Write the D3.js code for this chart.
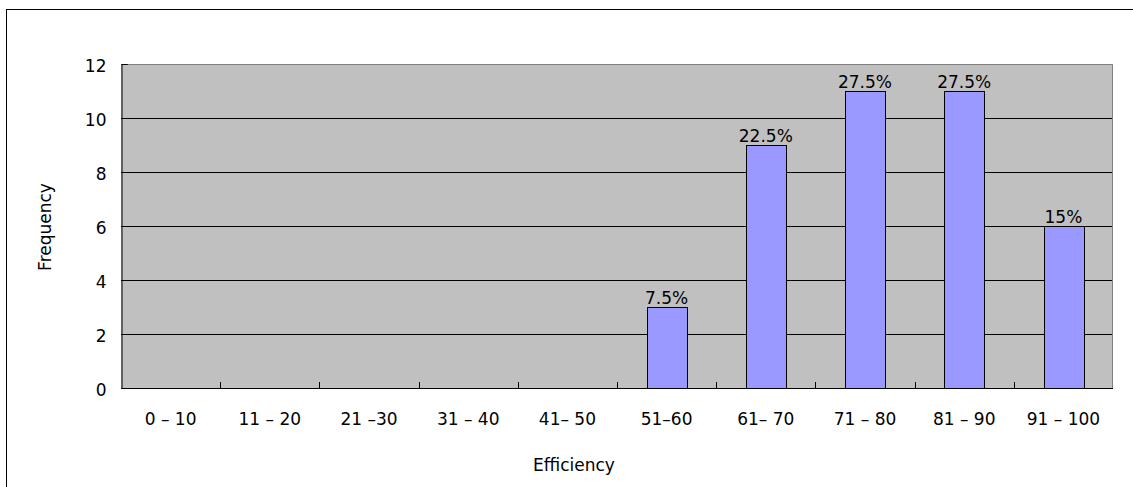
<!DOCTYPE html>
<html>
<head>
<meta charset="utf-8">
<script src="https://cdn.jsdelivr.net/npm/d3@7"></script>
<style>
  html, body { margin: 0; padding: 0; background: #fff; }
  svg { display: block; }
  text { font-family: "DejaVu Sans", "Liberation Sans", sans-serif; fill: #000; }
</style>
</head>
<body>
<svg id="chart" width="1133" height="487"></svg>
<script>
// Efficiency ranges and how many results fell into each one
const categories = ["0 – 10", "11 – 20", "21 –30", "31 – 40", "41– 50", "51–60", "61– 70", "71 – 80", "81 – 90", "91 – 100"];
const frequency = [0, 0, 0, 0, 0, 3, 9, 11, 11, 6];
const shareLabels = ["", "", "", "", "", "7.5%", "22.5%", "27.5%", "27.5%", "15%"];
const yTicks = [0, 2, 4, 6, 8, 10, 12];

const FONT_SIZE = 17;
const svg = d3.select("#chart");
const plot = { left: 121, top: 64, right: 1113, bottom: 388 };

// outer chart frame
svg.append("rect")
  .attr("x", 6.5).attr("y", 9.5)
  .attr("width", 1140).attr("height", 500)
  .attr("fill", "#fff").attr("stroke", "#000").attr("stroke-width", 1);

const x = d3.scaleBand()
  .domain(categories)
  .range([plot.left, plot.right])
  .paddingInner(0.6)
  .paddingOuter(0.3);

const y = d3.scaleLinear()
  .domain([0, 12])
  .range([plot.bottom, plot.top]);

// plot area background
svg.append("rect")
  .attr("x", plot.left).attr("y", plot.top)
  .attr("width", plot.right - plot.left).attr("height", plot.bottom - plot.top)
  .attr("fill", "#c0c0c0");

// horizontal gridlines
svg.append("g")
  .selectAll("line")
  .data(yTicks.filter(d => d > 0 && d < 12))
  .join("line")
  .attr("x1", plot.left).attr("x2", plot.right)
  .attr("y1", d => Math.round(y(d)) + 0.5).attr("y2", d => Math.round(y(d)) + 0.5)
  .attr("stroke", "#000").attr("stroke-width", 1);

// plot top and right edges
svg.append("path")
  .attr("d", `M${plot.left},${plot.top + 0.5}H${plot.right - 0.5}V${plot.bottom}`)
  .attr("fill", "none").attr("stroke", "#808080").attr("stroke-width", 1);

// bars
svg.append("g")
  .selectAll("rect")
  .data(categories.map((c, i) => ({ c, v: frequency[i] })).filter(d => d.v > 0))
  .join("rect")
  .attr("x", d => Math.round(x(d.c)) + 0.5)
  .attr("y", d => Math.round(y(d.v)) + 0.5)
  .attr("width", Math.round(x.bandwidth()))
  .attr("height", d => Math.round(y(0)) - Math.round(y(d.v)))
  .attr("fill", "#9999ff")
  .attr("stroke", "#000")
  .attr("stroke-width", 1);

// value labels above bars
svg.append("g")
  .selectAll("text")
  .data(categories.map((c, i) => ({ c, v: frequency[i], t: shareLabels[i] })).filter(d => d.t))
  .join("text")
  .attr("x", d => x(d.c) + x.bandwidth() / 2)
  .attr("y", d => y(d.v) - 3)
  .attr("text-anchor", "middle")
  .attr("font-size", FONT_SIZE)
  .text(d => d.t);

// y axis
const yAxis = d3.axisLeft(y).tickValues(yTicks).tickSize(-6).tickPadding(15);
const gy = svg.append("g")
  .attr("transform", `translate(${plot.left + 0.5},0)`)
  .call(yAxis);
gy.select(".domain").attr("stroke", "#000");
gy.selectAll(".tick line").attr("stroke", "#000");
gy.selectAll(".tick text")
  .attr("font-size", FONT_SIZE)
  .attr("font-family", "DejaVu Sans, Liberation Sans, sans-serif")
  .attr("dy", "0.42em");

// x axis: ticks at category boundaries, labels centred in each category
const xEdges = d3.range(categories.length + 1).map(i => plot.left + i * x.step());
const gx = svg.append("g");
gx.append("line")
  .attr("x1", plot.left).attr("x2", plot.right)
  .attr("y1", plot.bottom + 0.5).attr("y2", plot.bottom + 0.5)
  .attr("stroke", "#000");
gx.selectAll("line.tk")
  .data(xEdges.slice(1, -1))
  .join("line")
  .attr("class", "tk")
  .attr("x1", d => Math.round(d) + 0.5).attr("x2", d => Math.round(d) + 0.5)
  .attr("y1", plot.bottom - 6).attr("y2", plot.bottom)
  .attr("stroke", "#000");
gx.selectAll("text")
  .data(categories)
  .join("text")
  .attr("x", d => x(d) + x.bandwidth() / 2)
  .attr("y", 425)
  .attr("text-anchor", "middle")
  .attr("font-size", FONT_SIZE)
  .text(d => d);

// axis titles
svg.append("text")
  .attr("x", 574).attr("y", 471)
  .attr("text-anchor", "middle")
  .attr("font-size", FONT_SIZE)
  .text("Efficiency");

svg.append("text")
  .attr("transform", "translate(51,227) rotate(-90)")
  .attr("text-anchor", "middle")
  .attr("font-size", FONT_SIZE)
  .text("Frequency");
</script>
</body>
</html>
